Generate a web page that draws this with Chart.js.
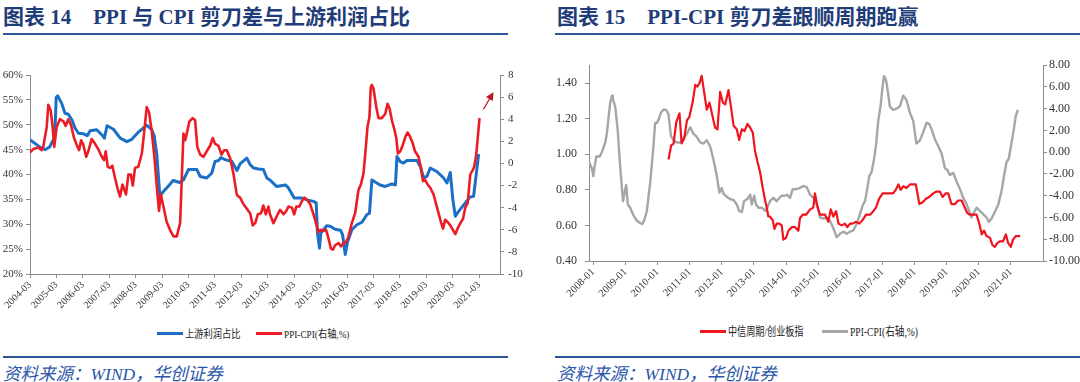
<!DOCTYPE html>
<html>
<head>
<meta charset="utf-8">
<script src="https://cdn.jsdelivr.net/npm/chart.js@4.4.1/dist/chart.umd.min.js"></script>
<style>
  html, body { margin: 0; padding: 0; background: #fff; }
  body { width: 1080px; height: 382px; position: relative; overflow: hidden;
         font-family: "Liberation Serif", "Noto Sans CJK SC", serif; }
  .title { position: absolute; top: 5px; line-height: 24px; font-weight: bold; font-size: 21px;
           color: #1f3d78; white-space: pre; }
  .rule { position: absolute; height: 2px; background: #2e5596; }
  .src { position: absolute; top: 364px; line-height: 20px; font-style: italic; font-size: 17.5px;
         color: #2a56a8; white-space: pre; }
  .leg { position: absolute; display: flex; align-items: center; white-space: pre; color: #222; }
  .leg i { display: inline-block; width: 26px; height: 3px; margin-right: 2px; }
  .leg span { display: inline-block; transform-origin: left center; }
  canvas { position: absolute; }
</style>
</head>
<body>
<div class="title" style="left:3px">图表 14<span style="margin-left:22px">PPI 与 CPI 剪刀差与上游利润占比</span></div>
<div class="rule" style="left:3px;top:33px;width:505px"></div>
<div class="title" style="left:557px">图表 15<span style="margin-left:22px">PPI-CPI 剪刀差跟顺周期跑赢</span></div>
<div class="rule" style="left:555px;top:33px;width:525px"></div>

<canvas id="left" width="530" height="260" style="left:0;top:60px"></canvas>
<canvas id="right" width="540" height="260" style="left:540px;top:50px"></canvas>

<div class="leg" style="left:157px;top:325px;font-size:11px"><i style="background:#1c6fc6"></i><span style="transform:scaleX(0.84)">上游利润占比</span></div>
<div class="leg" style="left:256px;top:325px;font-size:11px"><i style="background:#ec1c24"></i><span style="transform:scaleX(0.84)">PPI-CPI(右轴,%)</span></div>
<div class="leg" style="left:700px;top:322px;font-size:12px"><i style="background:#f0141e"></i><span style="transform:scaleX(0.76)">中信周期/创业板指</span></div>
<div class="leg" style="left:822px;top:322px;font-size:12px"><i style="background:#a6a6a6"></i><span style="transform:scaleX(0.8)">PPI-CPI(右轴,%)</span></div>

<div class="rule" style="left:3px;top:356px;width:505px"></div>
<div class="rule" style="left:555px;top:356px;width:525px"></div>
<div class="src" style="left:3px">资料来源：WIND，华创证券</div>
<div class="src" style="left:557px">资料来源：WIND，华创证券</div>

<script>
// ---- left chart: x = months since 2004-03 ----
const leftTickMonths = [0, 12, 24, 36, 48, 60, 72, 84, 96, 108, 120, 132, 144, 156, 168, 180, 192, 204];
const leftTickLabels = ["2004-03", "2005-03", "2006-03", "2007-03", "2008-03", "2009-03", "2010-03", "2011-03", "2012-03",
  "2013-03", "2014-03", "2015-03", "2016-03", "2017-03", "2018-03", "2019-03", "2020-03", "2021-03"];

const upstreamX = [0, 4.5, 7, 9, 10.6, 11.2, 11.9, 12.6, 14.4, 15.9, 17.4, 19, 20.5, 22, 24.2, 26, 27.3, 30.3, 32.6, 33.8,
  35, 37.9, 41, 44, 46, 49, 53, 55.3, 56.4, 57.6, 59, 60.6, 62.9, 65, 68, 69.7, 72, 75.8, 77.3, 80.3,
  82.6, 84, 85.6, 86.7, 88.6, 91.7, 94, 95.5, 98.5, 100, 101.5, 103.8, 106, 107.6, 109, 112, 116, 117.4, 120, 123.5,
  125.8, 128.8, 130, 130.6, 131.5, 132.1, 133.3, 134.8, 136.4, 138.6, 141, 142, 143.2, 144.2, 146.2, 148.5, 150.8, 153, 154.2, 155.3,
  159, 161.4, 164.4, 166, 166.7, 168.2, 169.7, 171.2, 175.8, 177.3, 178.8, 180.3, 181.8, 184.8, 187.9, 189.4, 190.9, 192.1, 193.2, 194.7,
  197, 200, 201.5, 203.8];
const upstreamY = [47.0, 45.5, 45.0, 45.6, 47.0, 47.0, 55.5, 55.8, 54.3, 52.3, 52.1, 51.0, 49.3, 48.3, 48.2, 47.8, 48.8, 49.0, 48.0, 47.3,
  49.8, 49.1, 47.3, 46.6, 47.0, 48.4, 49.9, 49.0, 47.8, 44.0, 35.6, 36.6, 37.7, 38.8, 38.4, 38.9, 41.0, 41.0, 39.6, 39.3,
  40.3, 42.6, 42.8, 43.4, 43.0, 42.6, 40.8, 42.2, 43.3, 42.0, 41.3, 41.1, 41.0, 39.3, 38.9, 37.6, 37.9, 37.3, 35.3, 35.3,
  34.9, 34.6, 34.3, 28.2, 25.2, 28.2, 28.9, 29.7, 29.6, 29.0, 28.8, 27.9, 23.9, 26.4, 28.9, 29.9, 30.4, 31.9, 32.2, 38.9,
  37.9, 37.6, 38.1, 37.9, 43.6, 42.6, 42.3, 42.8, 42.8, 41.6, 39.3, 39.6, 41.3, 40.6, 39.3, 38.3, 40.4, 34.9, 31.6, 32.6,
  33.9, 35.5, 35.6, 44.1];

const scissorX = [0, 1.5, 3.8, 5.3, 6, 7.6, 8.3, 9.4, 10.3, 11, 12.1, 13.6, 15.2, 16.2, 17.4, 18.6, 20, 21.2, 22.3, 23.2,
  24.2, 25.5, 26.5, 28, 29.5, 31, 32.6, 33.6, 34.4, 35.3, 36.4, 37.4, 38.6, 39.7, 40.9, 42, 43.6, 44.7, 45.8, 46.7,
  47.7, 49.2, 50.8, 51.8, 53, 54.1, 55.3, 56.5, 57.6, 58.6, 59.4, 60.6, 62.1, 63.6, 65.2, 66.7, 67.4, 68.2, 69.7, 70.5,
  71.2, 72.4, 73.9, 75, 76, 77.3, 78.8, 80.3, 81.8, 83, 84, 85.6, 87, 88.2, 89.4, 90.9, 92.4, 93.9, 94.7, 95.5,
  96.7, 98.5, 100, 101.2, 102.3, 103.5, 105, 106, 107.1, 108.3, 109, 110.6, 112, 113.6, 115.2, 116.4, 117.4, 119, 120, 121,
  122.4, 123.5, 124.7, 126, 127.3, 128.8, 130.3, 131, 132, 133.3, 134.5, 135.6, 136.7, 137.6, 138.6, 140.2, 141.2, 142.4, 143.6, 144.7,
  146.2, 147.7, 149.2, 150.3, 151.5, 152.7, 153.3, 154.2, 154.8, 155.3, 156, 157.3, 158.3, 159.8, 161.4, 162.4, 163.3, 164.4, 165.6, 166.4,
  167.1, 168.2, 169.4, 170.5, 171.5, 172.7, 173.9, 174.9, 176.5, 177.6, 178.5, 179.5, 180.6, 181.8, 183.3, 184.8, 186.4, 187.6, 188.6, 189.7,
  190.9, 192.1, 193.2, 194.2, 195.5, 196.7, 197.7, 198.8, 200, 201.1, 201.8, 202.7, 203.3, 204.2];
const scissorY = [1.0, 1.3, 1.45, 1.2, 1.5, 3.3, 5.3, 4.8, 3.3, 1.5, 3.3, 4.0, 3.8, 3.4, 4.0, 3.5, 2.3, 1.7, 1.2, 2.1,
  1.7, 0.6, 1.1, 2.2, 1.8, 1.3, 0.6, 0.3, 1.1, -0.3, -0.4, -0.2, -1.3, -2.2, -3.0, -1.9, -2.8, -1.0, -1.0, -2.0,
  -0.4, -0.3, 0.9, 2.7, 5.1, 4.6, 2.9, 0.6, -2.1, -4.3, -2.8, -3.9, -5.3, -6.0, -6.6, -6.6, -6.0, -5.4, 2.7, 2.1,
  2.7, 3.8, 4.1, 3.9, 1.5, 0.8, 0.6, 1.1, 1.6, 2.3, 1.8, 1.6, 0.8, 1.2, 1.2, 0.5, -0.9, -2.8, -3.0, -3.1,
  -3.6, -4.1, -4.5, -5.6, -5.4, -4.6, -4.5, -3.8, -4.6, -3.9, -4.6, -5.4, -4.8, -4.2, -4.6, -4.3, -3.9, -4.0, -4.6, -3.9,
  -3.9, -3.4, -3.1, -3.3, -3.7, -4.6, -5.7, -6.2, -6.0, -6.1, -6.0, -6.8, -7.7, -7.8, -7.4, -7.2, -7.5, -7.2, -7.1, -6.6,
  -5.4, -4.5, -2.4, -1.9, -0.9, 1.8, 3.3, 4.2, 6.9, 7.1, 6.8, 5.1, 4.1, 4.1, 4.5, 5.4, 5.0, 3.9, 3.0, 2.3,
  0.9, 1.1, 1.7, 2.4, 2.8, 2.4, 1.8, 1.1, 0.6, -0.4, -1.6, -1.5, -1.9, -2.2, -2.8, -3.9, -5.1, -5.9, -5.1, -5.3,
  -5.6, -6.0, -6.4, -5.9, -5.4, -5.0, -4.0, -3.6, -1.0, -0.6, -0.3, 0.8, 2.1, 4.1];

// arrow near the end of the PPI-CPI line: [month, right-axis value]
const arrowFrom = [206, 4.9];
const arrowTo = [210.5, 6.45];

// ---- right chart: x = months since 2008-01 ----
const rightTickMonths = [0, 12, 24, 36, 48, 60, 72, 84, 96, 108, 120, 132, 144, 156];
const rightTickLabels = ["2008-01", "2009-01", "2010-01", "2011-01", "2012-01", "2013-01", "2014-01",
  "2015-01", "2016-01", "2017-01", "2018-01", "2019-01", "2020-01", "2021-01"];
const ratioTicks = [0.4, 0.6, 0.8, 1.0, 1.2, 1.4];

const ratioX = [28.1, 29.1, 30, 31, 32.2, 33, 34, 35, 35.9, 37.1, 38.1, 38.9, 39.7, 40.5, 41.4, 42.4, 43.4, 44.3, 45.5, 46.4,
  47.4, 48.4, 49.3, 50.5, 51.4, 52.4, 53.6, 54.5, 55.5, 56.5, 57.6, 58.6, 59.6, 60.4, 61.3, 62.3, 63.3, 64.2, 64.8, 65.4,
  66, 67, 67.7, 68.5, 69.5, 70.4, 71, 72, 72.9, 74.1, 75.4, 76.6, 77.2, 78.2, 79.5, 81, 82.2, 82.8, 83.7, 84.7,
  86.6, 87.8, 88.7, 89.7, 90.7, 91.6, 92.8, 94, 94.9, 95.9, 96.9, 98.1, 99.4, 100.6, 101.9, 103.4, 104.6, 105.6, 106.8, 108.1,
  109.3, 110.8, 112, 113, 114, 114.8, 115.8, 117, 118.3, 119.5, 120.5, 121.8, 123, 124.3, 125.5, 127, 128.2, 129.5, 130.5, 131.7,
  132.6, 133.8, 135.1, 136.3, 137.6, 138.8, 139.7, 140.7, 141.9, 143.2, 144.2, 145.1, 146, 146.9, 148.2, 149.1, 150, 150.9, 151.9, 153.1,
  154.1, 155, 156, 156.8, 157.8, 158.6, 159.5];
const ratioY = [0.97, 1.05, 1.06, 1.18, 1.23, 1.06, 1.09, 1.19, 1.21, 1.29, 1.39, 1.38, 1.40, 1.44, 1.35, 1.25, 1.29, 1.23, 1.15, 1.14,
  1.35, 1.29, 1.28, 1.36, 1.27, 1.16, 1.14, 1.08, 1.14, 1.13, 1.17, 1.15, 1.12, 1.02, 0.96, 0.90, 0.81, 0.74, 0.70, 0.65,
  0.65, 0.63, 0.58, 0.61, 0.61, 0.60, 0.52, 0.53, 0.57, 0.59, 0.59, 0.57, 0.64, 0.66, 0.66, 0.69, 0.70, 0.78, 0.71, 0.66,
  0.66, 0.62, 0.69, 0.65, 0.68, 0.61, 0.60, 0.61, 0.59, 0.61, 0.61, 0.62, 0.61, 0.63, 0.66, 0.66, 0.68, 0.70, 0.75, 0.78,
  0.78, 0.78, 0.78, 0.80, 0.83, 0.80, 0.82, 0.81, 0.83, 0.83, 0.83, 0.72, 0.73, 0.75, 0.76, 0.78, 0.79, 0.79, 0.76, 0.78,
  0.78, 0.72, 0.72, 0.74, 0.74, 0.70, 0.67, 0.66, 0.66, 0.66, 0.61, 0.55, 0.57, 0.54, 0.53, 0.49, 0.48, 0.50, 0.51, 0.51,
  0.55, 0.50, 0.48, 0.52, 0.54, 0.54, 0.54];

const gapX = [-1.6, -0.5, 0, 0.5, 1.1, 2.4, 3.2, 4.5, 5.1, 5.7, 6.3, 7, 7.3, 8.2, 9.1, 9.7, 10.3, 11.1, 11.7, 12.3,
  12.9, 13.8, 15, 16.3, 17.5, 18.2, 19, 20, 21.3, 22.5, 23.1, 23.8, 24.4, 25.2, 26.2, 27.2, 28.1, 29, 30, 31.2,
  32.5, 33.7, 35, 36.2, 37.4, 38.7, 39.9, 41.2, 42.4, 43.7, 44.9, 46.1, 47.1, 48, 48.6, 49.9, 51.1, 52.4, 53.6, 54.5,
  55.5, 56.3, 57.6, 58.6, 59.2, 60.1, 60.8, 61.7, 62.9, 64.2, 65, 66, 67.3, 68.5, 69.5, 70.4, 71.6, 72.5, 73.5, 74.5,
  75.7, 77, 78.5, 79.7, 81, 82.2, 83.5, 84.7, 85.9, 87.2, 88.4, 89.7, 90.9, 92.2, 93.4, 94.7, 95.9, 97.1, 98.4, 99.6,
  100.6, 101.5, 102.4, 103.1, 104, 104.9, 105.6, 106.5, 107.3, 108.1, 108.6, 109.3, 109.9, 110.8, 112, 113.3, 114.5, 115.8, 117, 118.3,
  119.5, 120.7, 122, 123.2, 124.5, 125.5, 126.4, 127.6, 128.8, 130.1, 131.4, 132.2, 133.2, 134.5, 135.7, 137, 138.2, 139.5, 140.4, 141.3,
  142.3, 143.2, 144.4, 145.7, 146.9, 147.8, 148.8, 150, 151.3, 152.5, 153.5, 154.4, 155.2, 156.2, 157.1, 157.8, 158.6];
const gapY = [-0.9, -1.5, -2.2, -1.3, -0.4, -0.4, 0.0, 0.9, 1.8, 3.2, 4.5, 5.2, 4.9, 4.2, 2.1, -0.1, -2.1, -4.5, -3.7, -3.0,
  -4.8, -5.1, -5.8, -6.3, -6.5, -6.6, -6.3, -5.4, -2.7, 0.6, 2.7, 2.7, 3.0, 3.6, 3.9, 3.9, 3.5, 1.5, 1.1, 0.9,
  0.9, 1.3, 1.7, 2.3, 1.7, 1.4, 0.9, 0.8, 1.1, 0.5, -0.7, -2.1, -3.7, -3.3, -3.8, -4.1, -4.3, -4.4, -4.8, -5.4,
  -5.5, -4.5, -4.3, -3.9, -4.8, -4.0, -4.8, -5.1, -5.1, -5.4, -5.1, -4.5, -4.2, -4.5, -4.2, -4.0, -4.0, -3.9, -4.2, -3.4,
  -3.4, -3.3, -3.1, -3.2, -3.9, -4.2, -4.8, -6.0, -6.1, -6.0, -6.3, -7.0, -7.8, -7.5, -7.3, -7.5, -7.3, -7.2, -6.6, -5.7,
  -4.9, -4.5, -3.3, -2.2, -1.8, -0.6, 0.6, 3.0, 4.2, 6.1, 7.0, 6.7, 5.8, 4.2, 3.9, 4.0, 4.2, 5.2, 4.8, 3.6,
  2.9, 0.8, 1.1, 1.8, 2.7, 2.6, 2.1, 1.2, 0.6, -0.1, -1.5, -1.6, -2.1, -1.9, -2.7, -3.4, -4.2, -4.8, -5.4, -6.0,
  -5.5, -5.1, -5.4, -5.7, -6.0, -6.4, -6.1, -5.5, -4.8, -3.6, -2.1, -0.9, -0.6, 0.8, 2.1, 3.3, 3.9];

const pts = (xs, ys) => xs.map((x, i) => ({ x: x, y: ys[i] }));
const axisGrey = "#8c8c8c";
const labelColor = "#333";

function yAxis(pos, size, fit, extra) {
  return Object.assign({
    position: pos,
    border: { display: true, color: axisGrey, width: 1 },
    grid: { drawOnChartArea: false, drawTicks: true, tickLength: 4, color: axisGrey },
    ticks: { color: labelColor, font: { family: "Liberation Serif", size: size }, padding: 3 },
    afterFit: (s) => { s.width = fit; },
  }, extra);
}

function xAxis(min, max, tickMonths, tickLabels, fitH, size) {
  return {
    type: "linear",
    min: min,
    max: max,
    border: { display: true, color: axisGrey, width: 1 },
    grid: { drawOnChartArea: false, drawTicks: true, tickLength: 4, color: axisGrey },
    afterBuildTicks: (s) => { s.ticks = tickMonths.map((v) => ({ value: v })); },
    ticks: {
      autoSkip: false,
      minRotation: 45,
      maxRotation: 45,
      padding: 1,
      color: labelColor,
      font: { family: "Liberation Serif", size: size },
      callback: (v, i) => tickLabels[i],
    },
    afterFit: (s) => { s.height = fitH; },
  };
}

const arrowPlugin = {
  id: "arrow",
  afterDatasetsDraw(chart) {
    const xs = chart.scales.x, ys = chart.scales.y1;
    const x0 = xs.getPixelForValue(arrowFrom[0]), y0 = ys.getPixelForValue(arrowFrom[1]);
    const x1 = xs.getPixelForValue(arrowTo[0]), y1 = ys.getPixelForValue(arrowTo[1]);
    const ang = Math.atan2(y1 - y0, x1 - x0);
    const c = chart.ctx;
    c.save();
    c.strokeStyle = "#c0141c";
    c.fillStyle = "#c0141c";
    c.lineWidth = 1.3;
    c.beginPath();
    c.moveTo(x0, y0);
    c.lineTo(x1 - 5 * Math.cos(ang), y1 - 5 * Math.sin(ang));
    c.stroke();
    c.beginPath();
    c.moveTo(x1, y1);
    c.lineTo(x1 - 8 * Math.cos(ang) + 4 * Math.sin(ang), y1 - 8 * Math.sin(ang) - 4 * Math.cos(ang));
    c.lineTo(x1 - 8 * Math.cos(ang) - 4 * Math.sin(ang), y1 - 8 * Math.sin(ang) + 4 * Math.cos(ang));
    c.closePath();
    c.fill();
    c.restore();
  },
};

Chart.defaults.animation = false;

new Chart(document.getElementById("left"), {
  type: "line",
  data: {
    datasets: [
      { label: "PPI-CPI(右轴,%)", data: pts(scissorX, scissorY), yAxisID: "y1", borderColor: "#ec1c24",
        borderWidth: 2.6, pointRadius: 0, tension: 0, borderJoinStyle: "round", order: 0 },
      { label: "上游利润占比", data: pts(upstreamX, upstreamY), yAxisID: "y", borderColor: "#1c6fc6",
        borderWidth: 3, pointRadius: 0, tension: 0, borderJoinStyle: "round", order: 1 },
    ],
  },
  options: {
    responsive: false,
    devicePixelRatio: 1,
    layout: { padding: { top: 15, left: 0, right: 0, bottom: 0 } },
    plugins: { legend: { display: false }, tooltip: { enabled: false } },
    scales: {
      x: xAxis(0, 213.5, leftTickMonths, leftTickLabels, 46, 10),
      y: yAxis("left", 11, 30, { min: 20, max: 60, ticks: { stepSize: 5, color: labelColor,
        font: { family: "Liberation Serif", size: 11 }, padding: 3, callback: (v) => v + "%" } }),
      y1: yAxis("right", 11, 30, { min: -10, max: 8, ticks: { stepSize: 2, color: labelColor,
        font: { family: "Liberation Serif", size: 11 }, padding: 4 } }),
    },
  },
  plugins: [arrowPlugin],
});

new Chart(document.getElementById("right"), {
  type: "line",
  data: {
    datasets: [
      { label: "中信周期/创业板指", data: pts(ratioX, ratioY), yAxisID: "y", borderColor: "#f0141e",
        borderWidth: 2.2, pointRadius: 0, tension: 0, borderJoinStyle: "round" },
      { label: "PPI-CPI(右轴,%)", data: pts(gapX, gapY), yAxisID: "y1", borderColor: "#a6a6a6",
        borderWidth: 2.4, pointRadius: 0, tension: 0, borderJoinStyle: "round" },
    ],
  },
  options: {
    responsive: false,
    devicePixelRatio: 1,
    layout: { padding: { top: 12, left: 0, right: 0, bottom: 0 } },
    plugins: { legend: { display: false }, tooltip: { enabled: false } },
    scales: {
      x: xAxis(-1.6, 168, rightTickMonths, rightTickLabels, 49, 10.5),
      y: yAxis("left", 12, 49, { min: 0.4, max: 1.5,
        afterBuildTicks: (s) => { s.ticks = ratioTicks.map((v) => ({ value: v })); },
        ticks: { color: labelColor, font: { family: "Liberation Serif", size: 12 }, padding: 8,
          callback: (v) => v.toFixed(2) } }),
      y1: yAxis("right", 12, 37, { min: -10, max: 8, ticks: { stepSize: 2, color: labelColor,
        font: { family: "Liberation Serif", size: 12 }, padding: 2, callback: (v) => v.toFixed(2) } }),
    },
  },
});
</script>
</body>
</html>
